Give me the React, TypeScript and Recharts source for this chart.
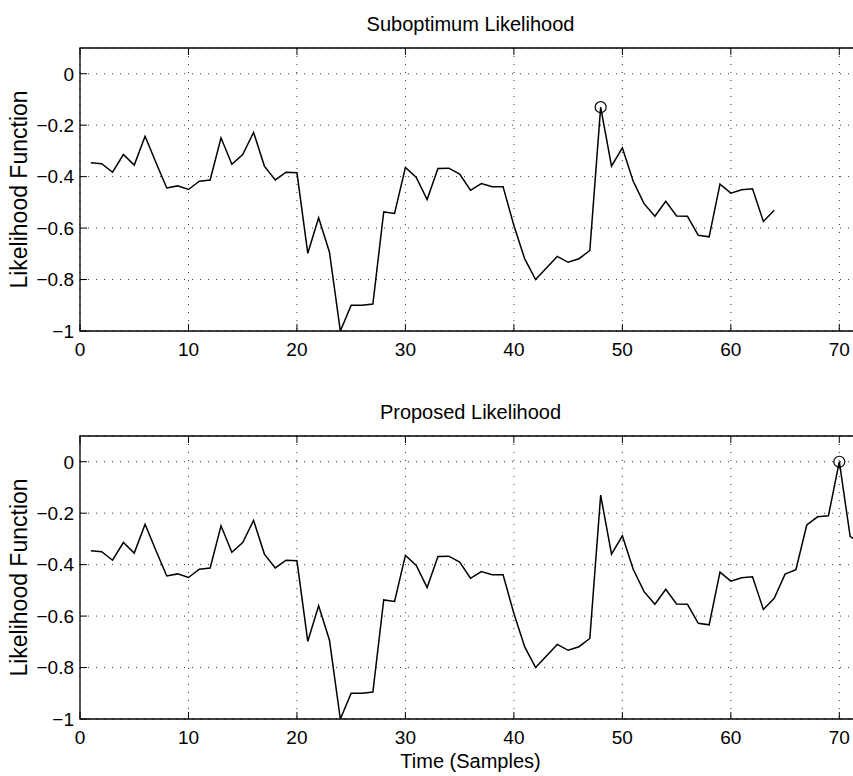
import {
  CartesianGrid,
  Line,
  LineChart,
  ReferenceArea,
  ReferenceDot,
  XAxis,
  YAxis,
} from "recharts";

// Likelihood value per time sample (samples 1..72).
const proposedLikelihood = [
  -0.346, -0.35, -0.383, -0.314, -0.355, -0.243, -0.345, -0.444, -0.436, -0.45,
  -0.418, -0.413, -0.249, -0.352, -0.314, -0.228, -0.359, -0.413, -0.383, -0.385,
  -0.698, -0.56, -0.694, -1.0, -0.9, -0.9, -0.895, -0.537, -0.543, -0.364,
  -0.403, -0.489, -0.368, -0.367, -0.39, -0.453, -0.427, -0.439, -0.439, -0.59,
  -0.72, -0.8, -0.755, -0.71, -0.733, -0.719, -0.687, -0.13, -0.359, -0.288,
  -0.418, -0.505, -0.554, -0.496, -0.553, -0.554, -0.628, -0.634, -0.429, -0.464,
  -0.451, -0.447, -0.574, -0.531, -0.437, -0.42, -0.246, -0.214, -0.21, 0.0,
  -0.29, -0.32,
];

// The suboptimum search only covers the first 64 samples.
const suboptimumLikelihood = proposedLikelihood.slice(0, 64);

const xTicks = [0, 10, 20, 30, 40, 50, 60, 70];
const yTicks = [-1, -0.8, -0.6, -0.4, -0.2, 0];
const X_DOMAIN: [number, number] = [0, 72];
const Y_DOMAIN: [number, number] = [-1, 0.1];

const FONT = '"Liberation Sans", Arial, Helvetica, sans-serif';

// plot box geometry inside each chart's svg
const CHART_W = 880;
const CHART_H = 390;
const PLOT_LEFT = 80;
const PLOT_TOP = 48;
const PLOT_W = 781;
const PLOT_H = 283;
const PLOT_BOTTOM = PLOT_TOP + PLOT_H;
const PLOT_RIGHT = PLOT_LEFT + PLOT_W;
const TICK_LEN = 7;
// axes need a non-zero size or recharts skips their ticks
const AXIS_SIZE = 1;

const fmtY = (v: number) => (v === 0 ? "0" : `\u2212${Math.abs(v)}`);

function XTick(props: any) {
  const { x, payload } = props;
  return (
    <g>
      <line x1={x} x2={x} y1={PLOT_BOTTOM} y2={PLOT_BOTTOM - TICK_LEN} stroke="#000" />
      <line x1={x} x2={x} y1={PLOT_TOP} y2={PLOT_TOP + TICK_LEN} stroke="#000" />
      <text
        x={x}
        y={PLOT_BOTTOM + 25}
        textAnchor="middle"
        fontSize={19}
        fontFamily={FONT}
        fill="#000"
      >
        {payload.value}
      </text>
    </g>
  );
}

function YTick(props: any) {
  const { y, payload } = props;
  return (
    <g>
      <line x1={PLOT_LEFT} x2={PLOT_LEFT + TICK_LEN} y1={y} y2={y} stroke="#000" />
      <line x1={PLOT_RIGHT} x2={PLOT_RIGHT - TICK_LEN} y1={y} y2={y} stroke="#000" />
      <text
        x={PLOT_LEFT - 6}
        y={y}
        dy="0.36em"
        textAnchor="end"
        fontSize={19}
        fontFamily={FONT}
        fill="#000"
      >
        {fmtY(payload.value)}
      </text>
    </g>
  );
}

type SubplotProps = {
  title: string;
  values: number[];
  top: number;
  xLabel?: string;
};

function Subplot({ title, values, top, xLabel }: SubplotProps) {
  const data = values.map((v, i) => ({ t: i + 1, v }));
  const peak = data.reduce((best, p) => (p.v > best.v ? p : best), data[0]);
  const midX = PLOT_LEFT + PLOT_W / 2;
  const midY = PLOT_TOP + PLOT_H / 2;

  return (
    <div style={{ position: "absolute", left: 0, top }}>
      <LineChart
        width={CHART_W}
        height={CHART_H}
        data={data}
        margin={{
          top: PLOT_TOP,
          left: PLOT_LEFT - AXIS_SIZE,
          right: CHART_W - PLOT_RIGHT,
          bottom: CHART_H - PLOT_BOTTOM - AXIS_SIZE,
        }}
      >
        <CartesianGrid stroke="#333" strokeWidth={1} strokeDasharray="1 7" />
        <XAxis
          dataKey="t"
          type="number"
          domain={X_DOMAIN}
          ticks={xTicks}
          allowDataOverflow
          height={AXIS_SIZE}
          axisLine={false}
          tickLine={false}
          tick={(p: any) => <XTick {...p} />}
          interval={0}
        />
        <YAxis
          type="number"
          domain={Y_DOMAIN}
          ticks={yTicks}
          allowDataOverflow
          width={AXIS_SIZE}
          axisLine={false}
          tickLine={false}
          tick={(p: any) => <YTick {...p} />}
          interval={0}
        />
        <ReferenceArea
          x1={X_DOMAIN[0]}
          x2={X_DOMAIN[1]}
          y1={Y_DOMAIN[0]}
          y2={Y_DOMAIN[1]}
          fill="none"
          stroke="#000"
          strokeWidth={1.3}
        />
        <Line
          type="linear"
          dataKey="v"
          stroke="#000"
          strokeWidth={1.5}
          dot={false}
          isAnimationActive={false}
        />
        <ReferenceDot
          x={peak.t}
          y={peak.v}
          r={5.5}
          fill="none"
          stroke="#000"
          strokeWidth={1.2}
        />
        <text
          x={midX}
          y={PLOT_TOP - 17}
          textAnchor="middle"
          fontSize={20}
          fontFamily={FONT}
          fill="#000"
        >
          {title}
        </text>
        <text
          x={27}
          y={midY}
          transform={`rotate(-90, 27, ${midY})`}
          textAnchor="middle"
          fontSize={23}
          fontFamily={FONT}
          fill="#000"
        >
          Likelihood Function
        </text>
        {xLabel ? (
          <text
            x={midX}
            y={PLOT_BOTTOM + 49}
            textAnchor="middle"
            fontSize={20}
            fontFamily={FONT}
            fill="#000"
          >
            {xLabel}
          </text>
        ) : null}
      </LineChart>
    </div>
  );
}

export default function App() {
  return (
    <div
      style={{
        position: "absolute",
        left: 0,
        top: 0,
        width: 853,
        height: 776,
        overflow: "hidden",
        background: "#fff",
      }}
    >
      <Subplot title="Suboptimum Likelihood" values={suboptimumLikelihood} top={0} />
      <Subplot
        title="Proposed Likelihood"
        values={proposedLikelihood}
        top={388}
        xLabel="Time (Samples)"
      />
    </div>
  );
}
